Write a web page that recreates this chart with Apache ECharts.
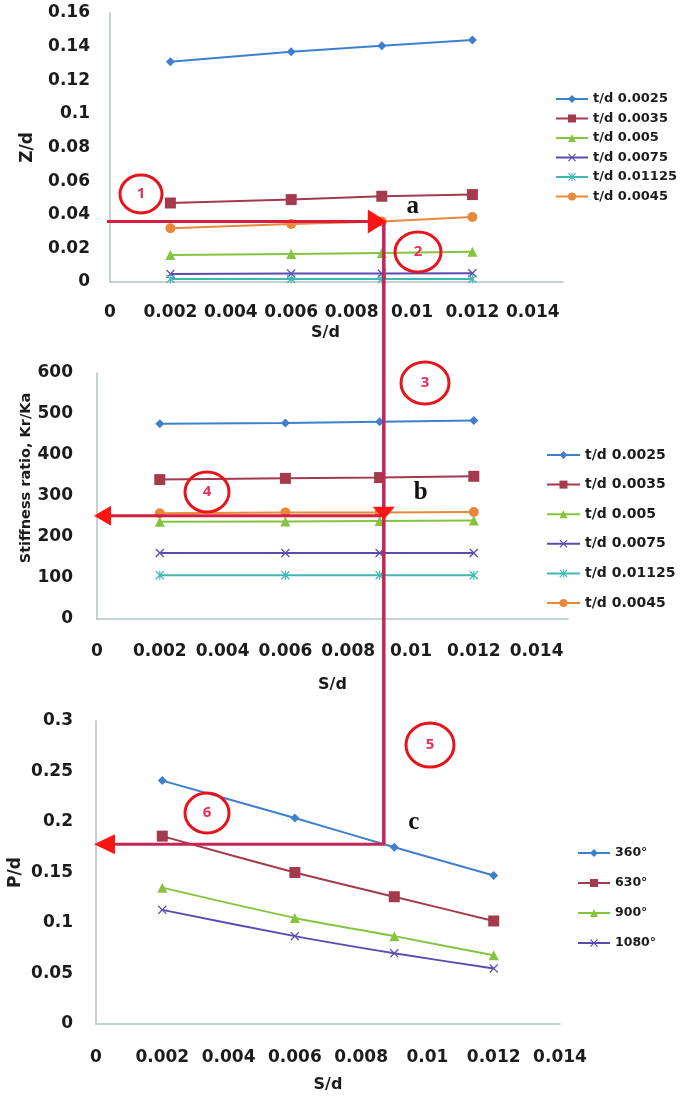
<!DOCTYPE html>
<html>
<head>
<meta charset="utf-8">
<script src="https://cdn.jsdelivr.net/npm/echarts@6/dist/echarts.min.js"></script>
<style>
html,body{margin:0;padding:0;background:#fff;}
#c{width:685px;height:1101px;}
</style>
</head>
<body>
<div id="c"></div>
<script>
// ---- data ----
const sd = [0.002, 0.006, 0.009, 0.012];

const tdNames = ['t/d 0.0025', 't/d 0.0035', 't/d 0.005', 't/d 0.0075', 't/d 0.01125', 't/d 0.0045'];
const z_0025  = [0.131, 0.137, 0.1405, 0.144];
const z_0035  = [0.047, 0.049, 0.051, 0.052];
const z_005   = [0.016, 0.0167, 0.0173, 0.018];
const z_0075  = [0.0048, 0.005, 0.005, 0.0052];
const z_01125 = [0.0018, 0.0018, 0.0018, 0.0018];
const z_0045  = [0.032, 0.0345, 0.036, 0.0387];

const k_0025  = [476, 478, 481, 484];
const k_0035  = [340, 343, 345, 348];
const k_005   = [237, 238, 239, 240];
const k_0075  = [161, 161, 161, 161];
const k_01125 = [107, 107, 107, 107];
const k_0045  = [258, 260, 260, 261];

const angNames = ['360°', '630°', '900°', '1080°'];
const p_360  = [0.241, 0.204, 0.175, 0.147];
const p_630  = [0.186, 0.150, 0.126, 0.102];
const p_900  = [0.135, 0.105, 0.087, 0.068];
const p_1080 = [0.113, 0.087, 0.070, 0.055];

// annotation reading (S/d = 0.009)
const annotSd = 0.009;
const annotZ = 0.036;
const annotK = 252;
const annotP = 0.178;

// ---- styles ----
const FONT = '"DejaVu Sans", sans-serif';
const xPath = 'path://M1,0 L5,4 L9,0 L10,1 L6,5 L10,9 L9,10 L5,6 L1,10 L0,9 L4,5 L0,1 Z';
const starPath = 'path://M1,0 L5,4 L9,0 L10,1 L6,5 L10,9 L9,10 L5,6 L1,10 L0,9 L4,5 L0,1 Z M4.4,0 L5.6,0 L5.6,10 L4.4,10 Z';
const styles = [
  {color:'#3f7fcf', symbol:'diamond', size:9},
  {color:'#a33a4e', symbol:'rect', size:11},
  {color:'#86c440', symbol:'triangle', size:10},
  {color:'#5c4cb0', symbol:xPath, size:9},
  {color:'#3fb9b0', symbol:starPath, size:9},
  {color:'#e8883a', symbol:'circle', size:10}
];

function pairs(vals){ return sd.map((x,i)=>[x, vals[i]]); }

function mkSeries(name, vals, st, idx, smooth){
  return {
    type:'line', name:name, xAxisIndex:idx, yAxisIndex:idx,
    data: pairs(vals), symbol: st.symbol, symbolSize: st.size,
    smooth: smooth ? 0.25 : false,
    lineStyle:{color:st.color, width:2},
    itemStyle:{color:st.color},
    emphasis:{disabled:true}, animation:false
  };
}

const zSets = [z_0025, z_0035, z_005, z_0075, z_01125, z_0045];
const kSets = [k_0025, k_0035, k_005, k_0075, k_01125, k_0045];
const pSets = [p_360, p_630, p_900, p_1080];

const series = [];
zSets.forEach((v,i)=>series.push(mkSeries(tdNames[i], v, styles[i], 0, false)));
kSets.forEach((v,i)=>series.push(mkSeries(tdNames[i], v, styles[i], 1, false)));
pSets.forEach((v,i)=>series.push(mkSeries(angNames[i], v, styles[i], 2, true)));

function xLabelFmt(v){
  const r = v/0.002;
  if (Math.abs(r - Math.round(r)) > 1e-6) return '';
  return String(+v.toFixed(4));
}

const axisLineStyle = {show:true, lineStyle:{color:'#b4c2c6', width:1.5}};
const labelStyle = {color:'#1c1c1c', fontFamily:FONT, fontWeight:'bold', fontSize:17};

function xAxis(idx, max, margin, gap, pad){
  return {
    type:'value', gridIndex:idx, min:0, max:max, interval:0.002,
    axisLine:axisLineStyle, axisTick:{show:false}, splitLine:{show:false},
    axisLabel:Object.assign({margin:margin, formatter:xLabelFmt, showMaxLabel:true}, labelStyle),
    name:'S/d', nameLocation:'middle', nameGap:gap, nameMoveOverlap:false,
    nameTextStyle:{color:'#1c1c1c', fontFamily:FONT, fontWeight:'bold', fontSize:16, padding:pad||0}
  };
}
function yAxis(idx, max, interval, margin, name, gap, nameSize, pad){
  return {
    type:'value', gridIndex:idx, min:0, max:max, interval:interval,
    axisLine:axisLineStyle, axisTick:{show:false}, splitLine:{show:false},
    axisLabel:Object.assign({margin:margin}, labelStyle),
    name:name, nameLocation:'middle', nameGap:gap, nameRotate:90, nameMoveOverlap:false,
    nameTextStyle:{color:'#1c1c1c', fontFamily:FONT, fontWeight:'bold', fontSize:nameSize, padding:pad||0}
  };
}

function legend(names, left, top, iw, fs, lh, gap){
  return {
    data:names, orient:'vertical', left:left, top:top, padding:0,
    itemWidth:iw, itemHeight:10, itemGap:gap, selectedMode:false,
    textStyle:{color:'#1c1c1c', fontFamily:FONT, fontWeight:'bold', fontSize:fs, lineHeight:lh}
  };
}

const option = {
  backgroundColor:'#fff',
  animation:false,
  grid:[
    {left:110, top:13, width:453, height:269, outerBoundsMode:'none'},
    {left:97, top:373, width:471, height:246, outerBoundsMode:'none'},
    {left:96, top:721, width:464, height:303, outerBoundsMode:'none'}
  ],
  xAxis:[ xAxis(0, 0.015, 22, 43, [0,22,0,0]), xAxis(1, 0.015, 24, 58), xAxis(2, 0.014, 25, 53) ],
  yAxis:[
    yAxis(0, 0.16, 0.02, 20, 'Z/d', 74, 17),
    yAxis(1, 600, 100, 24, 'Stiffness ratio, Kr/Ka', 63, 14.5, [0,0,0,36]),
    yAxis(2, 0.3, 0.05, 23, 'P/d', 72, 17)
  ],
  legend:[
    legend(tdNames, 555, 92, 32, 13, 14, 5.5),
    legend(tdNames, 546, 447, 33, 14, 16, 13.6),
    legend(angNames, 577, 846, 32, 12.5, 14, 16)
  ],
  series:series
};

const chart = echarts.init(document.getElementById('c'), null, {renderer:'canvas'});
chart.setOption(option);

// ---- annotation arrows ----
const a1 = chart.convertToPixel({gridIndex:0}, [annotSd, annotZ]);
const a2 = chart.convertToPixel({gridIndex:1}, [0, annotK]);
const a3 = chart.convertToPixel({gridIndex:2}, [0, annotP]);
const vx = a1[0] + 2, y1 = a1[1], y2 = a2[1], y3 = a3[1];
const x0a = chart.convertToPixel({gridIndex:0}, [0, 0])[0];
const x0b = a2[0], x0c = a3[0];

const RED = '#ff1414', CRIM = '#c42656', LRED = '#d81e3c';
const g = [];
// panel 1 horizontal arrow ->
g.push({type:'line', z:100, shape:{x1:x0a-3, y1:y1, x2:vx-12, y2:y1}, style:{stroke:LRED, lineWidth:3}});
g.push({type:'polygon', z:101, shape:{points:[[vx-16,y1-12],[vx+3,y1],[vx-16,y1+12]]}, style:{fill:RED}});
// vertical line
g.push({type:'line', z:100, shape:{x1:vx, y1:y1, x2:vx, y2:y3}, style:{stroke:CRIM, lineWidth:3.5}});
// panel 2
g.push({type:'line', z:100, shape:{x1:vx, y1:y2, x2:x0b+12, y2:y2}, style:{stroke:LRED, lineWidth:3}});
g.push({type:'polygon', z:101, shape:{points:[[x0b-3,y2],[x0b+14,y2-10],[x0b+14,y2+10]]}, style:{fill:RED}});
g.push({type:'polygon', z:101, shape:{points:[[vx-11,y2-9],[vx+11,y2-9],[vx,y2+4]]}, style:{fill:RED}});
// panel 3
g.push({type:'line', z:100, shape:{x1:vx+1, y1:y3, x2:x0c+14, y2:y3}, style:{stroke:CRIM, lineWidth:3}});
g.push({type:'polygon', z:101, shape:{points:[[x0c-2,y3],[x0c+19,y3-10],[x0c+19,y3+10]]}, style:{fill:RED}});

// letters
const letters = [['a', vx+29, y1-15], ['b', vx+37, y2-23], ['c', vx+30, y3-22]];
letters.forEach(l=>g.push({type:'text', z:102, x:l[1], y:l[2],
  style:{text:l[0], fill:'#111', font:'bold 25px "Liberation Serif", "DejaVu Serif", serif', align:'center', verticalAlign:'middle'}}));

// circled numbers
const circles = [['1',141,194,21,19],['2',418,252,23,20],['3',425,383,24,21],['4',207,492,22,20],['5',430,745,24,22],['6',207,813,22,20]];
circles.forEach(c=>{
  g.push({type:'ellipse', z:103, shape:{cx:c[1], cy:c[2], rx:c[3], ry:c[4]}, style:{fill:'rgba(255,255,255,0)', stroke:'#e8141c', lineWidth:3}});
  g.push({type:'text', z:104, x:c[1], y:c[2], style:{text:c[0], fill:'#e8305a', font:'bold 15px "Open Sans", sans-serif', align:'center', verticalAlign:'middle'}});
});

chart.setOption({graphic:g});
</script>
</body>
</html>
